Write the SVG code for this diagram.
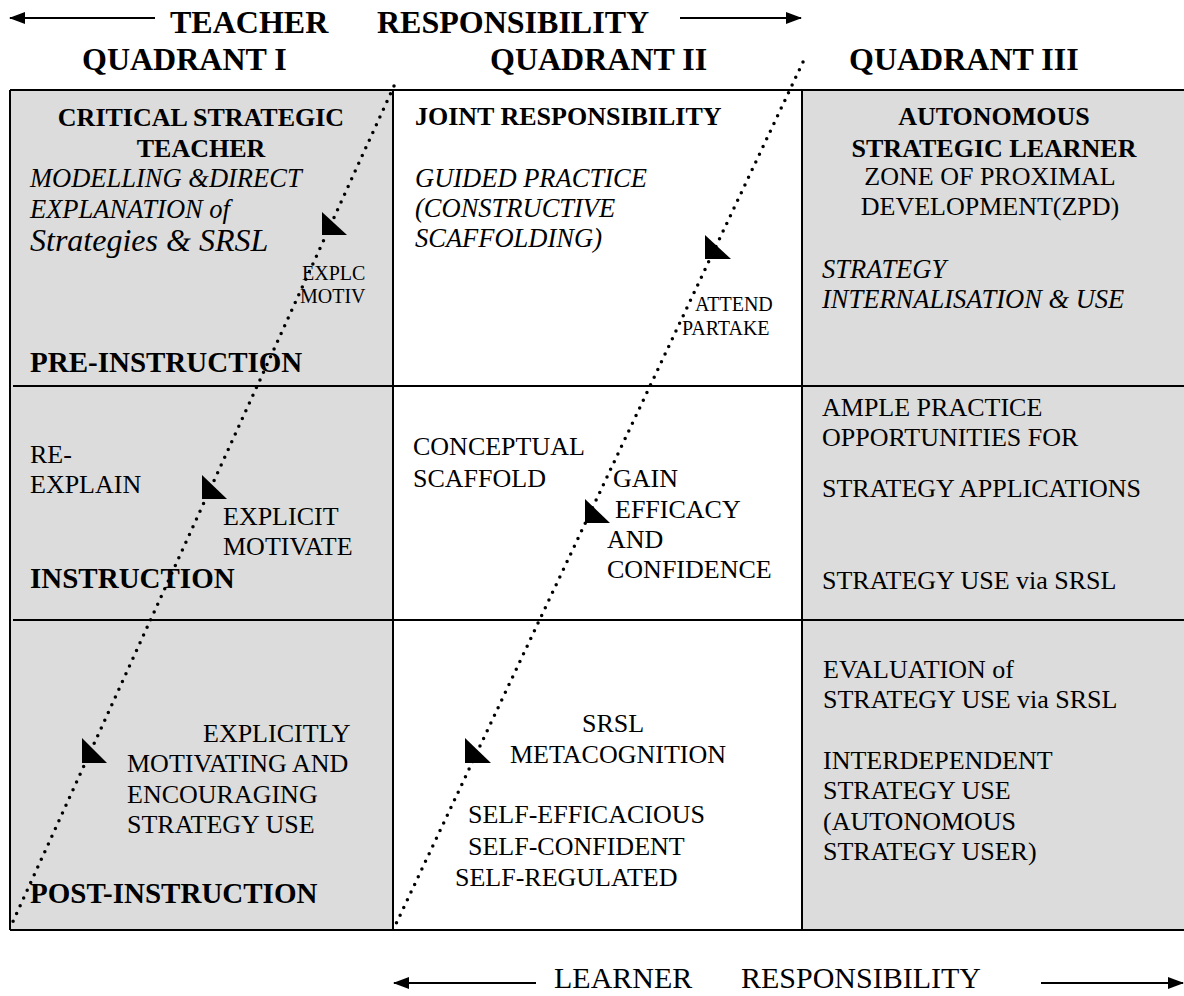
<svg xmlns="http://www.w3.org/2000/svg" width="1184" height="996" viewBox="0 0 1184 996">
<defs>
<style>
text{font-family:"Liberation Serif","Times New Roman",serif;fill:#000}
.hd{font-size:32px;font-weight:bold}
.cb{font-size:26px;font-weight:bold}
.ph{font-size:29px;font-weight:bold}
.it{font-size:26.5px;font-style:italic}
.rg{font-size:26px}
.sm{font-size:20px}
.bt{font-size:30px}
.grid{stroke:#000;stroke-width:2;fill:none}
.dot{stroke:#000;stroke-width:3.5;stroke-linecap:round;stroke-dasharray:0 8.5;fill:none}
.arr{stroke:#000;stroke-width:1.8;fill:none}
.tri{fill:#000}
</style>
<marker id="ah" markerUnits="userSpaceOnUse" markerWidth="16" markerHeight="12" refX="15" refY="6" orient="auto">
<path d="M0,0 L16,6 L0,12 z" fill="#000"/>
</marker>
</defs>
<rect width="1184" height="996" fill="#fff"/>

<g id="header">
<text class="hd" x="170" y="33">TEACHER</text>
<text class="hd" x="377" y="33">RESPONSIBILITY</text>
<text class="hd" x="82" y="70">QUADRANT I</text>
<text class="hd" x="490" y="70">QUADRANT II</text>
<text class="hd" x="849" y="70">QUADRANT III</text>
</g>

<g id="grid">
<rect x="10" y="90" width="383" height="840" fill="#dcdcdc"/>
<rect x="393" y="90" width="409" height="840" fill="#fff"/>
<rect x="802" y="90" width="384" height="840" fill="#dcdcdc"/>
<path class="grid" d="M10,90 H1186 M10,930 H1186 M10,90 V930 M393,90 V930 M802,90 V930 M13,386 H1186 M13,620 H1186"/>
</g>

<g id="cell-teacher-pre">
<text class="cb" x="201" y="126" text-anchor="middle">CRITICAL STRATEGIC</text>
<text class="cb" x="201" y="157" text-anchor="middle">TEACHER</text>
<text class="it" x="30" y="187">MODELLING &amp;DIRECT</text>
<text class="it" x="30" y="218">EXPLANATION of</text>
<text x="30" y="251" style="font-size:32px;font-style:italic">Strategies &amp; SRSL</text>
<text class="sm" x="302" y="280">EXPLC</text>
<text class="sm" x="300" y="303">MOTIV</text>
<text class="ph" x="30" y="372">PRE-INSTRUCTION</text>
</g>

<g id="cell-joint-pre">
<text class="cb" x="415" y="125">JOINT RESPONSIBILITY</text>
<text class="it" x="415" y="187">GUIDED PRACTICE</text>
<text class="it" x="415" y="217">(CONSTRUCTIVE</text>
<text class="it" x="415" y="247">SCAFFOLDING)</text>
<text class="sm" x="695" y="311">ATTEND</text>
<text class="sm" x="682" y="335">PARTAKE</text>
</g>

<g id="cell-learner-pre">
<text class="cb" x="994" y="125" text-anchor="middle">AUTONOMOUS</text>
<text class="cb" x="994" y="157" text-anchor="middle">STRATEGIC LEARNER</text>
<text class="rg" x="990" y="185" text-anchor="middle">ZONE OF PROXIMAL</text>
<text class="rg" x="990" y="215" text-anchor="middle">DEVELOPMENT(ZPD)</text>
<text class="it" x="822" y="278">STRATEGY</text>
<text class="it" x="822" y="308">INTERNALISATION &amp; USE</text>
</g>

<g id="cell-teacher-instr">
<text class="rg" x="30" y="463">RE-</text>
<text class="rg" x="30" y="493">EXPLAIN</text>
<text class="rg" x="223" y="525">EXPLICIT</text>
<text class="rg" x="223" y="555">MOTIVATE</text>
<text class="ph" x="30" y="588">INSTRUCTION</text>
</g>

<g id="cell-joint-instr">
<text class="rg" x="413" y="455">CONCEPTUAL</text>
<text class="rg" x="413" y="487">SCAFFOLD</text>
<text class="rg" x="613" y="487">GAIN</text>
<text class="rg" x="615" y="518">EFFICACY</text>
<text class="rg" x="607" y="548">AND</text>
<text class="rg" x="607" y="578">CONFIDENCE</text>
</g>

<g id="cell-learner-instr">
<text class="rg" x="822" y="416">AMPLE PRACTICE</text>
<text class="rg" x="822" y="446">OPPORTUNITIES FOR</text>
<text class="rg" x="822" y="497">STRATEGY APPLICATIONS</text>
<text class="rg" x="822" y="589">STRATEGY USE via SRSL</text>
</g>

<g id="cell-teacher-post">
<text class="rg" x="203" y="742">EXPLICITLY</text>
<text class="rg" x="127" y="772">MOTIVATING AND</text>
<text class="rg" x="127" y="803">ENCOURAGING</text>
<text class="rg" x="127" y="833">STRATEGY USE</text>
<text class="ph" x="30" y="903">POST-INSTRUCTION</text>
</g>

<g id="cell-joint-post">
<text class="rg" x="582" y="732">SRSL</text>
<text class="rg" x="510" y="763">METACOGNITION</text>
<text class="rg" x="468" y="823">SELF-EFFICACIOUS</text>
<text class="rg" x="468" y="855">SELF-CONFIDENT</text>
<text class="rg" x="455" y="886">SELF-REGULATED</text>
</g>

<g id="cell-learner-post">
<text class="rg" x="823" y="678">EVALUATION of</text>
<text class="rg" x="823" y="708">STRATEGY USE via SRSL</text>
<text class="rg" x="823" y="769">INTERDEPENDENT</text>
<text class="rg" x="823" y="799">STRATEGY USE</text>
<text class="rg" x="823" y="830">(AUTONOMOUS</text>
<text class="rg" x="823" y="860">STRATEGY USER)</text>
</g>

<g id="footer">
<text class="bt" x="554" y="988">LEARNER</text>
<text class="bt" x="741" y="988">RESPONSIBILITY</text>
</g>

<g id="connectors">
<line class="arr" x1="155" y1="18" x2="10" y2="18" marker-end="url(#ah)"/>
<line class="arr" x1="680" y1="18" x2="801" y2="18" marker-end="url(#ah)"/>
<line class="arr" x1="536" y1="983" x2="394" y2="983" marker-end="url(#ah)"/>
<line class="arr" x1="1041" y1="983" x2="1183" y2="983" marker-end="url(#ah)"/>
<line class="dot" x1="394" y1="86" x2="10" y2="928"/>
<line class="dot" x1="803" y1="62" x2="395" y2="926"/>
<polygon class="tri" points="322,212 322,235 347,235"/>
<polygon class="tri" points="202,475 202,499 227,499"/>
<polygon class="tri" points="82,738 82,763 107,763"/>
<polygon class="tri" points="705,235 705,259 731,259"/>
<polygon class="tri" points="585,499 585,523 610,523"/>
<polygon class="tri" points="465,738 465,763 491,763"/>
</g>
</svg>
